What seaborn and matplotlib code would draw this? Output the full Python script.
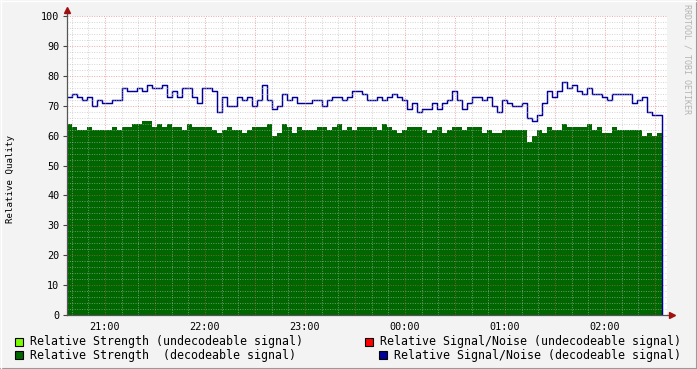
import numpy as np
import pandas as pd
import matplotlib
matplotlib.use("Agg")
import matplotlib.pyplot as plt
from matplotlib.ticker import MultipleLocator, FuncFormatter
from matplotlib.patches import Rectangle
from matplotlib.lines import Line2D
import seaborn as sns

# ---------------- data ----------------
start_min = 37.2      # first sample, minutes after 20:00
step_min = 3.0        # sampling step in minutes
span_min = 360.0      # visible time window (6 h)

strength_decodeable = [
    64, 63, 62, 62, 63, 62, 62, 62, 62, 63,
    62, 63, 63, 64, 64, 65, 65, 63, 64, 63,
    64, 63, 63, 62, 64, 63, 63, 63, 63, 62,
    61, 62, 63, 62, 62, 61, 62, 63, 63, 63,
    64, 60, 61, 64, 63, 61, 63, 62, 62, 62,
    63, 63, 62, 63, 64, 62, 63, 62, 63, 63,
    63, 63, 62, 64, 63, 62, 61, 62, 63, 63,
    63, 62, 61, 62, 63, 61, 62, 63, 63, 62,
    63, 63, 63, 61, 62, 61, 61, 62, 62, 62,
    62, 62, 58, 60, 62, 61, 63, 62, 62, 64,
    63, 63, 63, 63, 64, 62, 63, 61, 61, 63,
    62, 62, 62, 62, 62, 60, 61, 60, 61,
]

snr_decodeable = [
    73, 74, 73, 72, 73, 70, 72, 71, 71, 72,
    72, 76, 75, 75, 76, 75, 77, 76, 76, 77,
    73, 75, 73, 76, 76, 73, 71, 76, 76, 75,
    68, 73, 70, 70, 73, 72, 73, 70, 72, 77,
    72, 69, 70, 74, 72, 73, 71, 71, 71, 72,
    72, 70, 72, 73, 73, 72, 73, 75, 75, 74,
    72, 72, 73, 72, 73, 74, 73, 72, 69, 71,
    68, 69, 69, 71, 69, 71, 72, 75, 72, 69,
    71, 73, 73, 72, 73, 70, 68, 72, 71, 70,
    70, 71, 66, 65, 67, 71, 75, 73, 75, 78,
    76, 77, 75, 74, 76, 74, 74, 73, 72, 74,
    74, 74, 74, 71, 72, 73, 68, 67, 67,
]

hour_tick_labels = ["21:00", "22:00", "23:00", "00:00", "01:00", "02:00"]
y_label = "Relative Quality"
watermark = "RRDTOOL / TOBI OETIKER"

legend_left = [
    ("Relative Strength (undecodeable signal)", "#7CFC00"),
    ("Relative Strength  (decodeable signal)", "#006600"),
]
legend_right = [
    ("Relative Signal/Noise (undecodeable signal)", "#FF0000"),
    ("Relative Signal/Noise (decodeable signal)", "#000099"),
]

# ---------------- build frames ----------------
n = len(strength_decodeable)
times = start_min + step_min * np.arange(n)
t_end = start_min + step_min * n

area_df = pd.DataFrame({
    "t": np.append(times, t_end),
    "v": strength_decodeable + [strength_decodeable[-1]],
})
line_df = pd.DataFrame({
    "t": np.append(times, [t_end, t_end]),
    "v": snr_decodeable + [snr_decodeable[-1], 0],
})

# ---------------- style ----------------
sns.set_theme(style="white")
plt.rcParams["font.family"] = ["DejaVu Sans Mono", "DejaVu Sans"]

W, H = 697, 369
fig = plt.figure(figsize=(W / 100, H / 100), dpi=100, facecolor="#F3F3F3")
ax = fig.add_axes([67 / W, 54 / H, 600 / W, 299 / H])
ax.set_facecolor("white")

# area + line
ax.fill_between(area_df["t"], area_df["v"], step="post",
                color="#006600", linewidth=0, zorder=1)
sns.lineplot(data=line_df, x="t", y="v", ax=ax, drawstyle="steps-post",
             color="#000099", linewidth=1.05, estimator=None, sort=False,
             zorder=2)

ax.set_xlim(start_min, start_min + span_min)
ax.set_ylim(0, 100)
ax.set_xlabel("")
ax.set_ylabel("")

# ticks
ax.xaxis.set_major_locator(MultipleLocator(30))
ax.xaxis.set_minor_locator(MultipleLocator(10))
hour_map = {60 * (k + 1): lab for k, lab in enumerate(hour_tick_labels)}
ax.xaxis.set_major_formatter(
    FuncFormatter(lambda v, p: hour_map.get(int(round(v)), "")))
ax.yaxis.set_major_locator(MultipleLocator(10))
ax.yaxis.set_minor_locator(MultipleLocator(2))

ax.tick_params(axis="x", which="both", length=0, pad=5, labelsize=7.3,
               colors="#000000")
ax.tick_params(axis="y", which="major", length=3, width=0.8, pad=2.5,
               labelsize=7.3, colors="#444444", labelcolor="#000000",
               left=True)
ax.tick_params(axis="y", which="minor", length=0)

# grid on top of the data
ax.set_axisbelow(False)
ax.grid(which="minor", color="#B8B8B8", linestyle=(0, (1, 1.5)),
        linewidth=0.7, alpha=0.6)
ax.grid(which="major", color="#E06060", linestyle=(0, (1, 1.5)),
        linewidth=0.7, alpha=0.55)

for s in ["top", "right"]:
    ax.spines[s].set_visible(False)
for s in ["left", "bottom"]:
    ax.spines[s].set_color("#555555")
    ax.spines[s].set_linewidth(0.9)
    ax.spines[s].set_zorder(5)

# axis extensions and arrows
ax.add_line(Line2D([0, 0], [1, 1 + 4 / 299], transform=ax.transAxes,
                   color="#555555", lw=0.9, clip_on=False))
ax.add_line(Line2D([1, 1 + 2 / 600], [0, 0], transform=ax.transAxes,
                   color="#555555", lw=0.9, clip_on=False))
ax.plot([0], [1 + 6 / 299], marker="^", markersize=4.5, color="#A01010",
        transform=ax.transAxes, clip_on=False, zorder=6)
ax.plot([1 + 5 / 600], [0], marker=">", markersize=4.5, color="#A01010",
        transform=ax.transAxes, clip_on=False, zorder=6)

# y label and watermark
fig.text(11 / W, 1 - 179 / H, y_label, rotation=90, ha="center",
         va="center", fontsize=6.6, color="#000000")
fig.text(687 / W, 1 - 4 / H, watermark, rotation=-90, ha="center",
         va="top", fontsize=6.0, color="#B4B4B4")

# legend
def legend_entry(x_box, y_center, label, color):
    fig.patches.append(Rectangle(((x_box) / W, 1 - (y_center + 4) / H),
                                 8 / W, 8 / H, transform=fig.transFigure,
                                 facecolor=color, edgecolor="#000000",
                                 linewidth=0.8))
    fig.text((x_box + 15) / W, 1 - y_center / H, label, ha="left",
             va="center", fontsize=8.36, color="#000000")

legend_entry(15, 341.5, legend_left[0][0], legend_left[0][1])
legend_entry(15, 355, legend_left[1][0], legend_left[1][1])
legend_entry(365, 341.5, legend_right[0][0], legend_right[0][1])
legend_entry(379, 355, legend_right[1][0], legend_right[1][1])

# figure frame (light top/left, dark bottom/right)
fig.add_artist(Line2D([0, 1], [0.5 / H, 0.5 / H], transform=fig.transFigure,
                      color="#9A9A9A", lw=1.5))
fig.add_artist(Line2D([1 - 0.5 / W, 1 - 0.5 / W], [0, 1],
                      transform=fig.transFigure, color="#9A9A9A", lw=1.5))
fig.add_artist(Line2D([0, 1], [1 - 0.5 / H, 1 - 0.5 / H],
                      transform=fig.transFigure, color="#FFFFFF", lw=1))
fig.add_artist(Line2D([0.5 / W, 0.5 / W], [0, 1], transform=fig.transFigure,
                      color="#FFFFFF", lw=1))

fig.savefig("out.png", dpi=100, facecolor=fig.get_facecolor())
